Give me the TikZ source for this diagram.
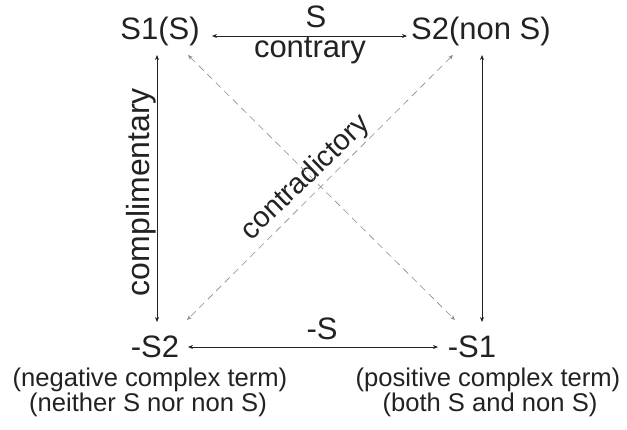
\documentclass[tikz,border=0pt]{standalone}
\usepackage{fontspec}
\setmainfont{Liberation Sans}
\usetikzlibrary{arrows.meta}
\definecolor{ink}{HTML}{222222}
\definecolor{dashc}{HTML}{8A8A8A}
\tikzset{
  lbl/.style={inner sep=0pt, text=ink, font=\fontsize{31}{31}\selectfont},
  desc/.style={inner sep=0pt, text=ink, font=\fontsize{25.6}{26}\selectfont},
  solidarr/.style={{Stealth[length=5pt,width=4pt]}-{Stealth[length=5pt,width=4pt]}, draw=ink, line width=0.7pt},
  dasharr/.style={{Stealth[length=5pt,width=4pt]}-{Stealth[length=5pt,width=4pt]}, draw=dashc, line width=0.6pt, dash pattern=on 7pt off 5pt}
}
\begin{document}
\begin{tikzpicture}[x=1pt,y=1pt]
\useasboundingbox (0,0) rectangle (627,429);
% corner nodes
\node[lbl, anchor=base] (s1) at (160,389) {S1(S)};
\node[lbl, anchor=base] (s2) at (481,389) {S2(non S)};
\node[lbl, anchor=base] (ns2) at (155,72) {-S2};
\node[lbl, anchor=base] (ns1) at (472,72) {-S1};
% descriptions
\node[desc, anchor=base] (d1) at (150,43) {(negative complex term)};
\node[desc, anchor=base] (d2) at (148,18) {(neither S nor non S)};
\node[desc, anchor=base] (d3) at (488,43) {(positive complex term)};
\node[desc, anchor=base] (d4) at (490,18) {(both S and non S)};
% edge labels
\node[lbl, anchor=base] (ls) at (316,401) {S};
\node[lbl, anchor=base] (lc) at (310,371) {contrary};
\node[lbl, anchor=base] (lns) at (322,89) {-S};
\node[lbl, rotate=90, font=\fontsize{32}{32}\selectfont] (lcomp) at (141,237) {complimentary};
\node[lbl, rotate=44, font=\fontsize{29}{29}\selectfont] (lcontra) at (306,251) {contradictory};
% connectors
\draw[solidarr] ([shift={(52pt,4pt)}]s1.base) -- ([shift={(-74pt,4pt)}]s2.base);
\draw[solidarr] ([shift={(33pt,10pt)}]ns2.base) -- ([shift={(-34pt,10pt)}]ns1.base);
\draw[solidarr] ([shift={(-3pt,-15pt)}]s1.base) -- ([shift={(2pt,35pt)}]ns2.base);
\draw[solidarr] ([shift={(1pt,-15pt)}]s2.base) -- ([shift={(10pt,35pt)}]ns1.base);
\draw[dasharr] ([shift={(28pt,-15pt)}]s1.base) -- ([shift={(-17pt,37pt)}]ns1.base);
\draw[dasharr] ([shift={(-28pt,-15pt)}]s2.base) -- ([shift={(32pt,37pt)}]ns2.base);
\end{tikzpicture}
\end{document}
